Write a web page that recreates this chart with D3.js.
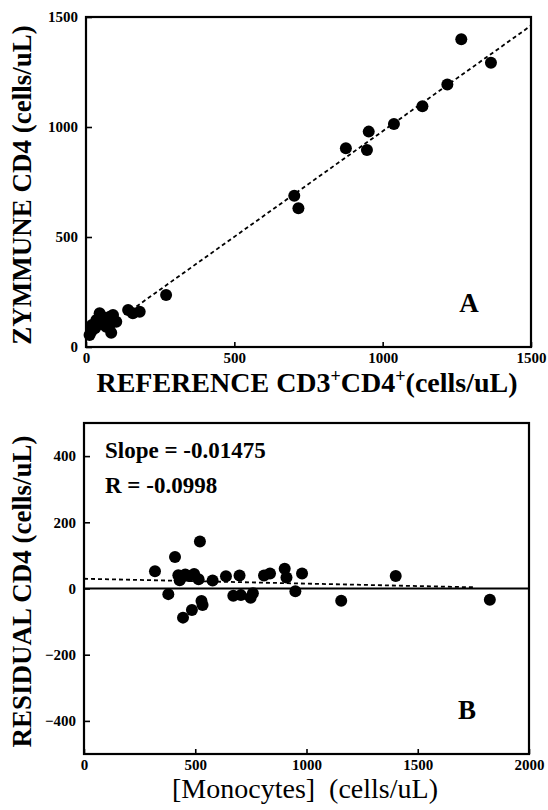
<!DOCTYPE html>
<html>
<head>
<meta charset="utf-8">
<script src="https://cdn.jsdelivr.net/npm/d3@7"></script>
<style>
body { margin: 0; background: #fff; }
text { font-family: "Liberation Serif", "Times New Roman", serif; fill: #000; }
</style>
</head>
<body>
<div id="chart"></div>
<script>
// Panel A: reference CD3+CD4+ vs Zymmune CD4 (cells/uL)
const refCD4 = [12, 18, 20, 30, 35, 46, 55, 50, 68, 80, 91, 80, 85, 102, 142, 158, 181,
    270, 702, 716, 876, 947, 953, 1038, 1134, 1218, 1265, 1365];
const zymCD4 = [55, 72, 100, 85, 123, 153, 138, 105, 92, 138, 145, 100, 65, 115, 168, 153, 160,
    236, 687, 631, 903, 895, 979, 1014, 1094, 1193, 1399, 1292];

// Panel B: monocytes vs residual CD4
const monocytes = [319, 379, 409, 424, 430, 445, 455, 470, 485, 495, 515, 521, 528, 533, 578,
    638, 671, 699, 705, 749, 759, 809, 836, 902, 910, 950, 980, 1156, 1401, 1824];
const residual = [52, -17, 95, 40, 25, -88, 42, 38, -65, 44, 28, 142, -38, -50, 24,
    37, -22, 39, -20, -28, -14, 39, 45, 60, 33, -8, 45, -37, 38, -34];

const ticksA = [0, 500, 1000, 1500];
const ticksBx = [0, 500, 1000, 1500, 2000];
const ticksBy = [-400, -200, 0, 200, 400];

// regression lines
const fitA = { intercept: 21, slope: 0.96, from: 170, to: 1500 };
const fitB = { intercept: 29.5, slope: -0.01475, from: 0, to: 1750 };
const statsB = ["Slope = -0.01475", "R = -0.0998"];

const width = 548;
const height = 810;

const svg = d3.select("#chart")
    .append("svg")
    .attr("width", width)
    .attr("height", height);

function styleAxis(g) {
    g.attr("font-family", null).attr("font-size", null);
    g.select(".domain").remove();
    g.selectAll(".tick line").attr("stroke", "#000").attr("stroke-width", 1.6);
    g.selectAll(".tick text")
        .style("font-size", "15px")
        .style("font-weight", "bold");
}

function drawPanel(p) {
    const x = d3.scaleLinear().domain(p.xDomain).range([p.left, p.right]);
    const y = d3.scaleLinear().domain(p.yDomain).range([p.bottom, p.top]);

    // axes with inward ticks
    svg.append("g")
        .attr("transform", `translate(0,${p.bottom})`)
        .call(d3.axisBottom(x).tickValues(p.xTicks).tickFormat(d3.format("d"))
            .tickSizeInner(-5).tickSizeOuter(0).tickPadding(5))
        .call(styleAxis);

    svg.append("g")
        .attr("transform", `translate(${p.left},0)`)
        .call(d3.axisLeft(y).tickValues(p.yTicks).tickFormat(d3.format("d"))
            .tickSizeInner(-6).tickSizeOuter(0).tickPadding(8))
        .call(styleAxis);

    // zero line (panel B)
    if (p.zeroLine) {
        svg.append("line")
            .attr("x1", x(p.xDomain[0])).attr("x2", x(p.xDomain[1]))
            .attr("y1", y(0)).attr("y2", y(0))
            .attr("stroke", "#000").attr("stroke-width", 1.8);
    }

    // dashed fit line
    svg.append("line")
        .attr("x1", x(p.fit.from))
        .attr("y1", y(p.fit.intercept + p.fit.slope * p.fit.from))
        .attr("x2", x(p.fit.to))
        .attr("y2", y(p.fit.intercept + p.fit.slope * p.fit.to))
        .attr("stroke", "#000")
        .attr("stroke-width", 1.8)
        .attr("stroke-dasharray", "4,3");

    svg.append("g")
        .selectAll("circle")
        .data(p.xs.map((v, i) => [v, p.ys[i]]))
        .enter()
        .append("circle")
        .attr("cx", d => x(d[0]))
        .attr("cy", d => y(d[1]))
        .attr("r", 6)
        .attr("fill", "#000");

    // frame
    svg.append("rect")
        .attr("x", p.left).attr("y", p.top)
        .attr("width", p.right - p.left).attr("height", p.bottom - p.top)
        .attr("fill", "none")
        .attr("stroke", "#000")
        .attr("stroke-width", 2.2);

    // panel letter
    svg.append("text")
        .attr("x", p.right - 62)
        .attr("y", p.bottom - 35)
        .attr("text-anchor", "middle")
        .style("font-size", "27px")
        .style("font-weight", "bold")
        .text(p.letter);

    // Y axis label
    svg.append("text")
        .attr("transform", `translate(31,${(p.top + p.bottom) / 2 + 3}) rotate(-90)`)
        .attr("text-anchor", "middle")
        .style("font-size", "27px")
        .style("font-weight", "bold")
        .text(p.yLabel);

    return { x, y };
}

drawPanel({
    left: 86, right: 531, top: 17, bottom: 347,
    xDomain: [0, 1500], yDomain: [0, 1500],
    xTicks: ticksA, yTicks: ticksA,
    xs: refCD4, ys: zymCD4,
    fit: fitA,
    letter: "A",
    yLabel: "ZYMMUNE CD4 (cells/uL)"
});

drawPanel({
    left: 84, right: 529, top: 423, bottom: 754,
    xDomain: [0, 2000], yDomain: [-500, 500],
    xTicks: ticksBx, yTicks: ticksBy,
    xs: monocytes, ys: residual,
    fit: fitB,
    zeroLine: true,
    letter: "B",
    yLabel: "RESIDUAL CD4 (cells/uL)"
});

// X axis label A with superscripts
const xLabA = svg.append("text")
    .attr("x", 307)
    .attr("y", 392)
    .attr("text-anchor", "middle")
    .style("font-size", "28px")
    .style("font-weight", "bold");
xLabA.append("tspan").text("REFERENCE CD3");
xLabA.append("tspan").attr("baseline-shift", "super").style("font-size", "18px").text("+");
xLabA.append("tspan").text("CD4");
xLabA.append("tspan").attr("baseline-shift", "super").style("font-size", "18px").text("+");
xLabA.append("tspan").text("(cells/uL)");

// X axis label B
svg.append("text")
    .attr("x", 305)
    .attr("y", 798)
    .attr("text-anchor", "middle")
    .style("font-size", "28px")
    .style("white-space", "pre")
    .text("[Monocytes]  (cells/uL)");

// regression stats in panel B
svg.append("g")
    .selectAll("text")
    .data(statsB)
    .enter()
    .append("text")
    .attr("x", 105)
    .attr("y", (d, i) => 458 + i * 35)
    .style("font-size", "23px")
    .style("font-weight", "bold")
    .text(d => d);
</script>
</body>
</html>
